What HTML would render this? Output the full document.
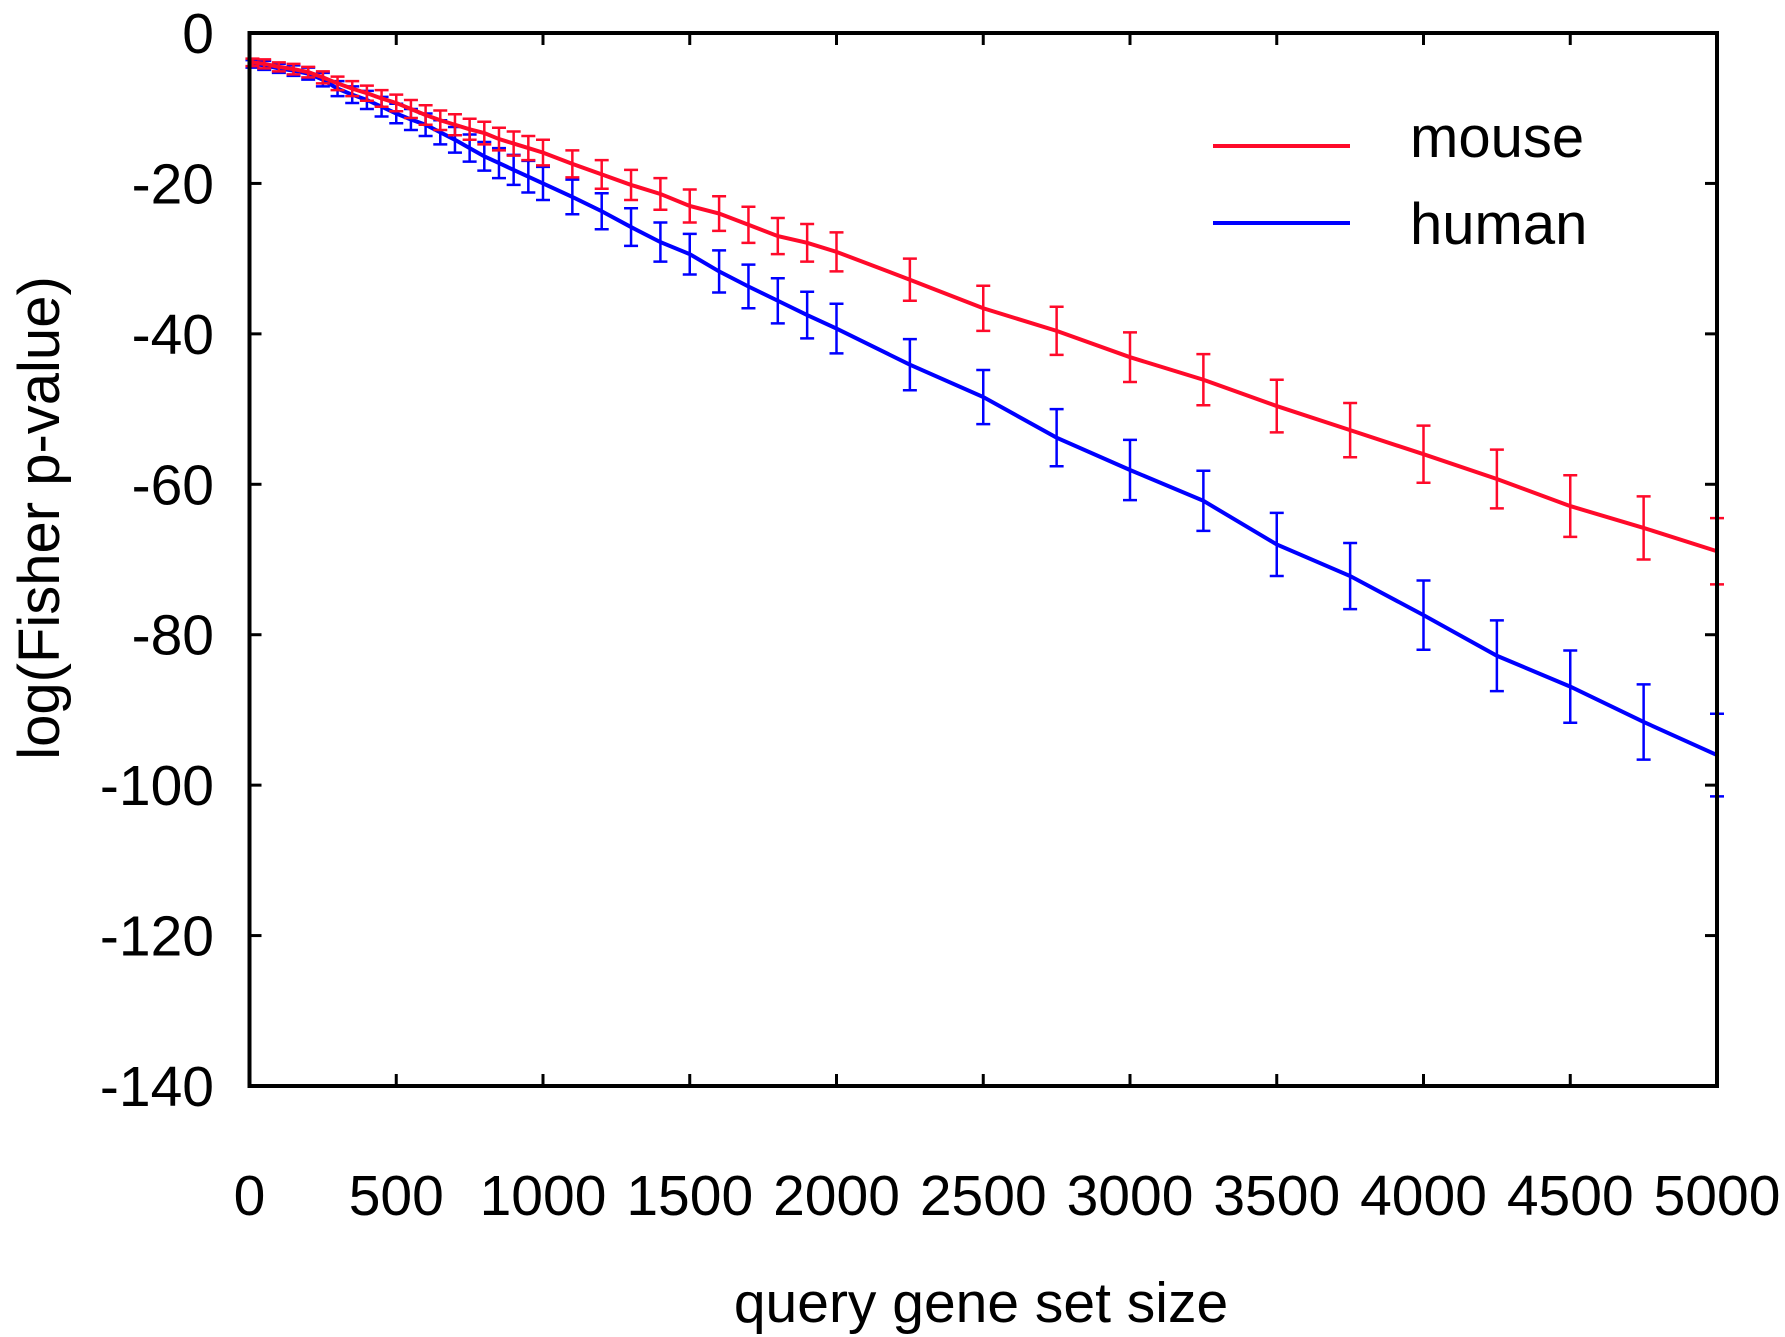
<!DOCTYPE html>
<html><head><meta charset="utf-8"><style>html,body{margin:0;padding:0;background:#fff}svg{display:block}</style></head>
<body>
<svg id="chart" width="1785" height="1337" xmlns="http://www.w3.org/2000/svg" font-family="Liberation Sans, Arial, sans-serif">
<g id="ticks"></g>
<g id="series"></g>
<rect x="249.5" y="33" width="1467.5" height="1053" fill="none" stroke="#000" stroke-width="4"/>
<text x="981" y="1322" font-size="57" text-anchor="middle">query gene set size</text>
<text transform="translate(59,518) rotate(-90)" font-size="58" text-anchor="middle">log(Fisher p-value)</text>
<g>
<line x1="1213" y1="146" x2="1350" y2="146" stroke="#ff0a2a" stroke-width="4"/>
<text x="1410" y="157" font-size="58">mouse</text>
<line x1="1213" y1="223" x2="1350" y2="223" stroke="#0000ff" stroke-width="4"/>
<text x="1410" y="244" font-size="58">human</text>
</g>
</svg>
<script>
const xs = [10,50,100,150,200,250,300,350,400,450,500,550,600,650,700,750,800,850,900,950,1000,1100,1200,1300,1400,1500,1600,1700,1800,1900,2000,2250,2500,2750,3000,3250,3500,3750,4000,4250,4500,4750,5000];
const mouse = [-3.9,-4.1,-4.5,-4.8,-5.2,-5.9,-6.7,-7.4,-8.0,-8.7,-9.3,-10.1,-10.9,-11.6,-12.2,-12.8,-13.3,-14.1,-14.7,-15.3,-15.9,-17.4,-18.8,-20.2,-21.4,-23.0,-24.0,-25.5,-27.0,-27.9,-29.1,-32.8,-36.6,-39.6,-43.1,-46.1,-49.6,-52.8,-56.0,-59.3,-62.9,-65.8,-68.9];
const mouseErr = [0.5,0.6,0.6,0.7,0.7,0.8,0.9,1.0,1.0,1.1,1.1,1.2,1.3,1.3,1.4,1.4,1.5,1.5,1.6,1.6,1.7,1.8,1.9,2.0,2.1,2.2,2.3,2.4,2.4,2.5,2.6,2.8,3.0,3.2,3.3,3.4,3.5,3.6,3.8,3.9,4.1,4.2,4.4];
const human = [-4.1,-4.3,-4.7,-5.0,-5.4,-6.2,-7.4,-8.2,-8.9,-9.8,-10.7,-11.5,-12.2,-13.2,-14.2,-15.3,-16.4,-17.3,-18.2,-19.1,-20.0,-21.8,-23.7,-25.8,-27.8,-29.4,-31.7,-33.7,-35.6,-37.5,-39.3,-44.1,-48.4,-53.8,-58.1,-62.2,-68.0,-72.2,-77.4,-82.8,-86.9,-91.6,-96.0];
const humanErr = [0.5,0.6,0.6,0.7,0.8,0.9,1.0,1.1,1.2,1.3,1.3,1.4,1.5,1.6,1.7,1.8,1.9,2.0,2.0,2.1,2.2,2.3,2.4,2.5,2.6,2.7,2.8,2.9,3.0,3.1,3.3,3.4,3.6,3.8,4.0,4.0,4.2,4.4,4.6,4.7,4.8,5.0,5.5];
const xTicks = [0,500,1000,1500,2000,2500,3000,3500,4000,4500,5000];
const yTicks = [0,-20,-40,-60,-80,-100,-120,-140];

const L=249.5,R=1717,T=33,B=1086;
const sx=v=>L+(v-0)/5000*(R-L);
const sy=v=>T+(0-v)/140*(B-T);
const NS='http://www.w3.org/2000/svg';
function mk(tag,attrs,parent){const e=document.createElementNS(NS,tag);for(const k in attrs)e.setAttribute(k,attrs[k]);parent.appendChild(e);return e;}
const tk=document.getElementById('ticks');
xTicks.forEach(v=>{
  const x=sx(v);
  let a=mk('line',{x1:x,y1:B,x2:x,y2:B-12,stroke:'#000','stroke-width':3},tk);
  
  
  let b=mk('line',{x1:x,y1:T,x2:x,y2:T+12,stroke:'#000','stroke-width':3},tk);
  
  
  let t=mk('text',{x:x,y:1215,'font-size':57,'text-anchor':'middle'},tk);
  t.textContent=v;
  
  
});
yTicks.forEach(v=>{
  const y=sy(v);
  let a=mk('line',{x1:L,y1:y,x2:L+12,y2:y,stroke:'#000','stroke-width':3},tk);
  
  
  let b=mk('line',{x1:R,y1:y,x2:R-12,y2:y,stroke:'#000','stroke-width':3},tk);
  
  
  let t=mk('text',{x:214,y:y+20,'font-size':57,'text-anchor':'end'},tk);
  t.textContent=v;
  
  
});
const sg=document.getElementById('series');
function draw(vals,errs,color,name){
  const g=mk('g',{},sg);
  
  
  vals.forEach((v,i)=>{
    const x=sx(xs[i]),y1=sy(v+errs[i]),y2=sy(v-errs[i]);
    let e=mk('path',{d:`M${x},${y1}V${y2}M${x-7},${y1}H${x+7}M${x-7},${y2}H${x+7}`,stroke:color,'stroke-width':2.5,fill:'none'},g);
    
    
  });
  let p=mk('polyline',{points:vals.map((v,i)=>sx(xs[i])+','+sy(v)).join(' '),stroke:color,'stroke-width':4,fill:'none'},g);
  
  
}
draw(human,humanErr,'#0000ff','human');
draw(mouse,mouseErr,'#ff0a2a','mouse');
</script>
</body></html>
